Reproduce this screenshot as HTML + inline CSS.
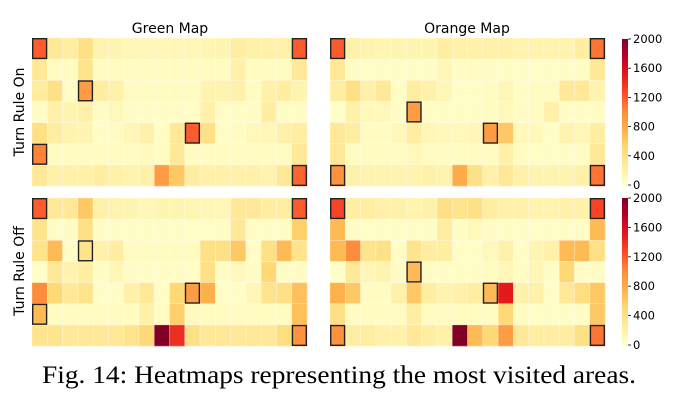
<!DOCTYPE html>
<html><head><meta charset="utf-8"><style>
html,body{margin:0;padding:0;background:#fff;width:676px;height:404px;overflow:hidden}
</style></head><body>
<svg id="s" width="676" height="404" xmlns="http://www.w3.org/2000/svg" font-family="DejaVu Sans, sans-serif">
<defs><linearGradient id="g" x1="0" y1="1" x2="0" y2="0">
<stop offset="0" stop-color="#ffffcc"/><stop offset=".125" stop-color="#ffeda0"/><stop offset=".25" stop-color="#fed976"/><stop offset=".375" stop-color="#feb24c"/><stop offset=".5" stop-color="#fd8d3c"/><stop offset=".625" stop-color="#fc4e2a"/><stop offset=".75" stop-color="#e31a1c"/><stop offset=".875" stop-color="#bd0026"/><stop offset="1" stop-color="#800026"/></linearGradient></defs>
<text x="170" y="33" font-size="14" text-anchor="middle">Green Map</text>
<text x="467" y="33" font-size="14" text-anchor="middle">Orange Map</text>
<text transform="translate(24,112) rotate(-90)" font-size="14" text-anchor="middle">Turn Rule On</text>
<text transform="translate(24,271) rotate(-90)" font-size="14" text-anchor="middle">Turn Rule Off</text>
<text x="42" y="383" font-size="25" font-family="Liberation Serif, serif" textLength="594" lengthAdjust="spacingAndGlyphs">Fig. 14: Heatmaps representing the most visited areas.</text>
<g id="cb"></g>
</svg>
<script>
const stops=["#ffffcc","#ffeda0","#fed976","#feb24c","#fd8d3c","#fc4e2a","#e31a1c","#bd0026","#800026"].map(h=>[1,3,5].map(i=>parseInt(h.substr(i,2),16)));
function col(v){v=Math.max(0,Math.min(1,v))*8;let i=Math.min(7,Math.floor(v)),f=v-i;return "rgb("+stops[i].map((c,k)=>Math.round(c+(stops[i+1][k]-c)*f)).join(",")+")";}
const P=[
{x:32,y:38,box:[[0,0],[0,17],[2,3],[4,10],[5,0],[6,17]],d:[
[.6,.15,.12,.2,.08,.07,.06,.06,.06,.06,.06,.07,.07,.12,.1,.1,.1,.6],
[.15,.03,.03,.18,.03,.03,.03,.03,.03,.03,.03,.03,.03,.1,.03,.03,.03,.15],
[.13,.2,.02,.45,.12,.1,.03,.03,.03,.03,.03,.08,.08,.1,.03,.1,.12,.08],
[.02,.1,.07,.1,.02,.05,.02,.02,.02,.02,.02,.1,.02,.02,.02,.12,.02,.02],
[.2,.12,.08,.07,.02,.03,.06,.1,.02,.15,.6,.2,.02,.03,.05,.06,.1,.12],
[.52,.03,.03,.03,.03,.03,.03,.04,.03,.15,.03,.03,.03,.03,.03,.03,.03,.15],
[.15,.1,.1,.1,.12,.1,.08,.1,.45,.3,.12,.1,.1,.1,.1,.08,.15,.58]]},
{x:32,y:198,box:[[0,0],[0,17],[2,3],[4,10],[5,0],[6,17]],d:[
[.6,.15,.15,.3,.1,.08,.07,.06,.07,.07,.07,.06,.06,.15,.15,.12,.12,.6],
[.18,.02,.02,.2,.02,.02,.02,.02,.02,.02,.02,.02,.02,.15,.02,.02,.02,.28],
[.18,.35,.02,.18,.1,.12,.03,.03,.03,.03,.03,.2,.2,.3,.02,.2,.35,.18],
[.01,.15,.08,.12,.02,.06,.02,.02,.02,.02,.02,.2,.02,.05,.02,.25,.02,.02],
[.5,.25,.15,.18,.02,.02,.1,.15,.02,.25,.45,.38,.02,.02,.06,.18,.2,.33],
[.35,.03,.03,.03,.03,.03,.03,.1,.03,.28,.04,.03,.03,.03,.03,.03,.03,.33],
[.18,.18,.15,.15,.15,.15,.18,.25,1,.7,.2,.15,.15,.15,.15,.15,.22,.48]]},
{x:330,y:38,box:[[0,0],[0,17],[3,5],[4,10],[6,0],[6,17]],d:[
[.6,.1,.08,.07,.07,.07,.07,.12,.1,.1,.1,.1,.08,.08,.08,.08,.12,.55],
[.15,.02,.02,.02,.02,.02,.02,.06,.02,.03,.02,.02,.02,.02,.02,.02,.02,.15],
[.12,.2,.1,.15,.02,.12,.1,.06,.02,.02,.03,.06,.02,.03,.03,.15,.15,.08],
[.01,.1,.05,.05,.02,.45,.02,.02,.02,.02,.03,.05,.02,.03,.1,.02,.02,.02],
[.15,.12,.03,.03,.05,.12,.06,.05,.05,.06,.45,.3,.05,.05,.02,.08,.06,.12],
[.15,.03,.03,.03,.03,.05,.03,.03,.03,.03,.03,.1,.03,.02,.02,.02,.02,.15],
[.48,.1,.08,.08,.08,.08,.1,.08,.4,.2,.1,.15,.1,.08,.08,.08,.1,.55]]},
{x:330,y:198,box:[[0,0],[0,17],[3,5],[4,10],[6,0],[6,17]],d:[
[.65,.12,.12,.1,.1,.08,.1,.2,.18,.2,.12,.1,.1,.08,.08,.1,.1,.65],
[.35,.02,.02,.02,.02,.02,.02,.12,.02,.05,.02,.02,.02,.02,.02,.02,.02,.35],
[.35,.5,.18,.2,.02,.18,.12,.12,.02,.02,.05,.1,.02,.07,.1,.35,.35,.2],
[.01,.15,.06,.08,.02,.35,.02,.02,.02,.02,.03,.06,.02,.06,.02,.25,.02,.02],
[.38,.3,.03,.03,.1,.3,.12,.08,.1,.12,.35,.75,.1,.1,.02,.15,.22,.3],
[.2,.03,.03,.03,.03,.12,.03,.03,.03,.03,.03,.25,.03,.02,.02,.02,.02,.3],
[.48,.12,.12,.1,.1,.15,.12,.1,1,.35,.25,.45,.15,.12,.12,.12,.2,.55]]}];
const W=275/18,H=148/7;let h="";
for(const p of P){for(let r=0;r<7;r++)for(let c=0;c<18;c++)
h+=`<rect x="${(p.x+c*W).toFixed(2)}" y="${(p.y+r*H).toFixed(2)}" width="${(W+.3).toFixed(2)}" height="${(H+.3).toFixed(2)}" fill="${col(p.d[r][c])}"/>`;
for(let r=0;r<7;r++)for(let c=0;c<18;c++)h+=`<rect x="${(p.x+c*W).toFixed(2)}" y="${(p.y+r*H).toFixed(2)}" width="${W.toFixed(2)}" height="${H.toFixed(2)}" fill="none" stroke="#fff" stroke-opacity=".35" stroke-width=".6"/>`;
for(const [r,c] of p.box)h+=`<rect x="${(p.x+c*W+.7).toFixed(2)}" y="${(p.y+r*H+.7).toFixed(2)}" width="${(W-1.4).toFixed(2)}" height="${(H-1.4).toFixed(2)}" fill="none" stroke="#222" stroke-width="1.4"/>`;}
for(const [y0,y1] of [[39,185],[198,345]]){h+=`<rect x="622" y="${y0}" width="6" height="${y1-y0}" fill="url(#g)"/>`;
for(let i=0;i<=5;i++){const y=y1-(y1-y0)*i/5;h+=`<line x1="628" x2="631" y1="${y}" y2="${y}" stroke="#000" stroke-width=".8"/><text x="633" y="${y+4}" font-size="11.5">${i*400}</text>`;}}
document.getElementById("cb").innerHTML=h;
</script>
</body></html>
